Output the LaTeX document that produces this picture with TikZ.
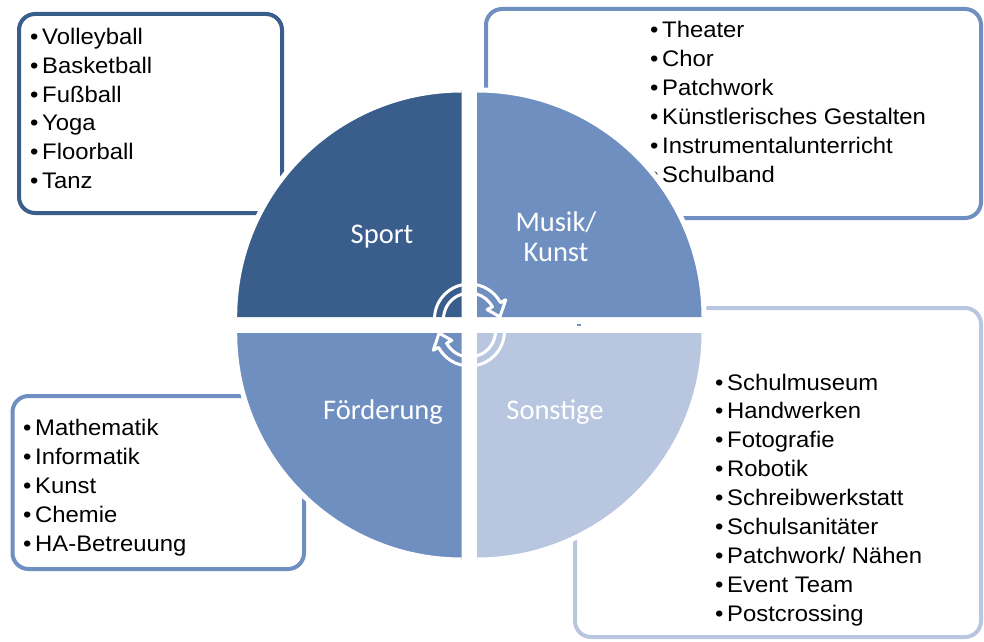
\documentclass[tikz,border=0pt]{standalone}
\usepackage{fontspec}
\setmainfont{Liberation Sans}
\newfontfamily\listfont[FakeStretch=1.06]{Liberation Sans}
\newfontfamily\calib{Carlito}
\definecolor{cdark}{RGB}{58,94,140}
\definecolor{cmid}{RGB}{111,143,193}
\definecolor{clight}{RGB}{185,198,224}
\begin{document}
\begin{tikzpicture}[x=1pt,y=1pt,
  listbox/.style={line width=4pt, rounded corners=16pt},
  arcedge/.style={draw=white, line width=5pt},
  item/.style={anchor=base west, inner sep=0pt, font=\listfont\fontsize{22.5}{29}\selectfont, text=black},
  lab/.style={font=\calib\fontsize{28.5}{30}\selectfont, text=white, align=center, inner sep=0pt},
  cyc/.style={draw=white, line width=3pt, line join=round}]
\useasboundingbox (0,0) rectangle (984,641);

% list boxes
\draw[listbox, draw=cdark] (19,428) rectangle (282,627);
\draw[listbox, draw=cmid] (486,423) rectangle (981,632);
\draw[listbox, draw=cmid] (12.5,72) rectangle (304,245);
\draw[listbox, draw=clight] (575,4) rectangle (981,333);

% list texts
\foreach \t [count=\i] in {Volleyball,Basketball,Fußball,Yoga,Floorball,Tanz}
  \node[item] (sp\i) at (30,{596-(\i-1)*28.6}) {\makebox[12pt][l]{•}\t};
\foreach \t [count=\i] in {Theater,Chor,Patchwork,Künstlerisches Gestalten,Instrumentalunterricht,Schulband}
  \node[item] (mu\i) at (650,{603-(\i-1)*29}) {\makebox[12pt][l]{•}\t};
\foreach \t [count=\i] in {Mathematik,Informatik,Kunst,Chemie,HA-Betreuung}
  \node[item] (fo\i) at (23,{206-(\i-1)*29}) {\makebox[12pt][l]{•}\t};
\foreach \t [count=\i] in {Schulmuseum,Handwerken,Fotografie,Robotik,Schreibwerkstatt,Schulsanitäter,Patchwork/ Nähen,Event Team,Postcrossing}
  \node[item] (so\i) at (715,{251-(\i-1)*28.9}) {\makebox[12pt][l]{•}\t};

% white gaps of the circle
\fill[white] (461.7,78.5) rectangle (477,553.5);
\fill[white] (232.2,308) rectangle (706.5,324);

% quadrants
\coordinate (qs) at (461.7,324);
\coordinate (qm) at (477,324);
\coordinate (qf) at (461.7,308);
\coordinate (qo) at (477,308);
\fill[cdark] (qs) -- ++(-227,0) arc[start angle=180, end angle=90, radius=227pt] -- cycle;
\draw[arcedge] ([shift={(180:227pt)}]qs) arc[start angle=180, end angle=90, radius=227pt];
\fill[cmid] (qm) -- ++(227,0) arc[start angle=0, end angle=90, radius=227pt] -- cycle;
\draw[arcedge] ([shift={(0:227pt)}]qm) arc[start angle=0, end angle=90, radius=227pt];
\fill[cmid] (qf) -- ++(-227,0) arc[start angle=180, end angle=270, radius=227pt] -- cycle;
\draw[arcedge] ([shift={(180:227pt)}]qf) arc[start angle=180, end angle=270, radius=227pt];
\fill[clight] (qo) -- ++(227,0) arc[start angle=0, end angle=-90, radius=227pt] -- cycle;
\draw[arcedge] ([shift={(0:227pt)}]qo) arc[start angle=0, end angle=-90, radius=227pt];
\fill[cmid] (577,315.5) rectangle (581,317);

% cycle arrows
\coordinate (ua) at (469.5,322);
\coordinate (la) at (469.5,310);
\draw[cyc] ([shift={(180:35pt)}]ua) arc[start angle=180, end angle=28, radius=35pt]
  -- ([shift={(28:41pt)}]ua) -- ([shift={(4:30.5pt)}]ua) -- ([shift={(28:20pt)}]ua)
  -- ([shift={(28:26pt)}]ua) arc[start angle=28, end angle=180, radius=26pt] -- cycle;
\draw[cyc] ([shift={(0:35pt)}]la) arc[start angle=0, end angle=-152, radius=35pt]
  -- ([shift={(-152:41pt)}]la) -- ([shift={(-176:30.5pt)}]la) -- ([shift={(-152:20pt)}]la)
  -- ([shift={(-152:26pt)}]la) arc[start angle=-152, end angle=0, radius=26pt] -- cycle;

% labels
\node[lab] (sport) at (382,404) {Sport};
\node[lab] (musik) at (556,404) {Musik/\\Kunst};
\node[lab] (foerd) at (383,229) {Förderung};
\node[lab] (sonst) at (555,229) {Sonstige};
\end{tikzpicture}
\end{document}
